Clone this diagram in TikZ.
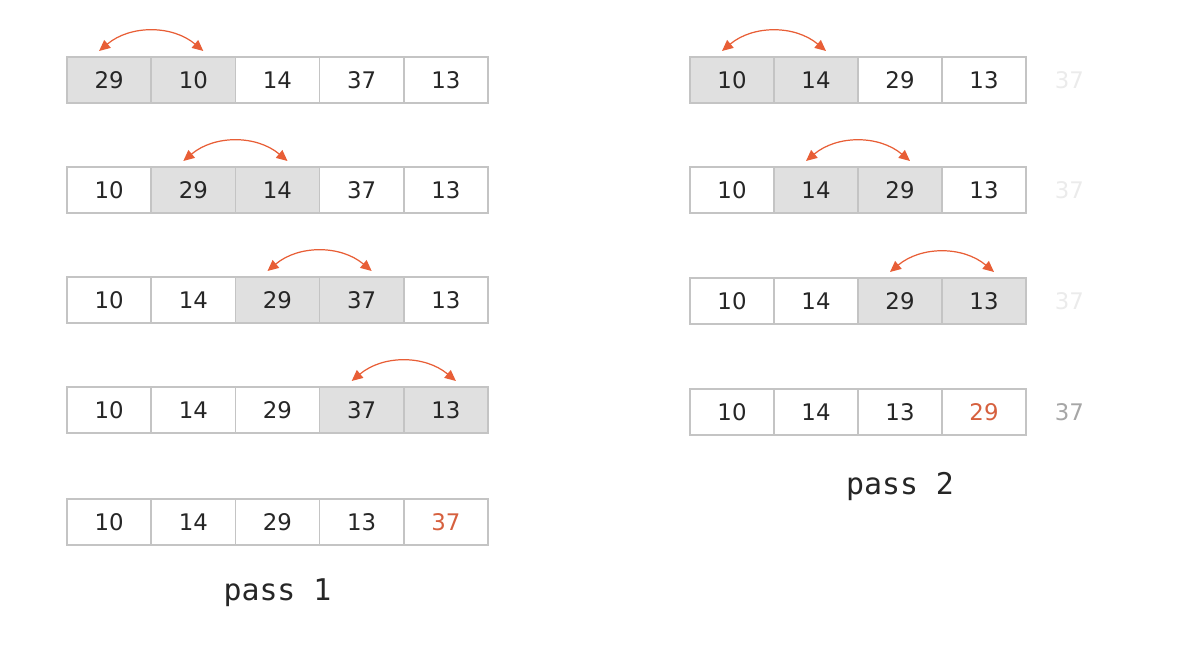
\documentclass[tikz,border=0pt]{standalone}
\usepackage{fontspec}
\setmainfont{DejaVu Sans}
\newfontfamily\passfont{DejaVu Sans Mono}
\usetikzlibrary{arrows.meta, positioning}
\definecolor{swapOrange}{RGB}{232, 94, 54}
\definecolor{doneOrange}{RGB}{214, 96, 62}
\definecolor{cellGray}{RGB}{224, 224, 224}
\definecolor{cellBorder}{RGB}{196, 196, 196}

\begin{document}
\begin{tikzpicture}[
    font=\fontsize{13}{15}\selectfont,
    % Estilo base para celdas
    plain/.style={
        draw=cellBorder,
        line width=0.9pt,
        minimum width=1.684cm,
        minimum height=0.92cm,
        inner sep=0pt,
        outer sep=0pt,
        text=black!85
    },
    % Celdas comparadas
    shaded/.style={plain, fill=cellGray},
    % Elemento ya ordenado
    done/.style={plain, text=doneOrange},
    % Flechas de intercambio
    swaparrow/.style={
        {Triangle[length=2.2mm, width=2mm]}-{Triangle[length=2.2mm, width=2mm]},
        line width=0.7pt,
        swapOrange
    },
    % Etiquetas de pasada
    passlabel/.style={font=\passfont\fontsize{17}{19}\selectfont, text=black!85}
]
    \useasboundingbox (0,0) rectangle (23.72,13);

    % --- 1. Primera pasada ---
    \foreach \r/\y/\vals in {
        1/11.4/{29/shaded,10/shaded,14/plain,37/plain,13/plain},
        2/9.2/{10/plain,29/shaded,14/shaded,37/plain,13/plain},
        3/7.0/{10/plain,14/plain,29/shaded,37/shaded,13/plain},
        4/4.8/{10/plain,14/plain,29/plain,37/shaded,13/shaded},
        5/2.56/{10/plain,14/plain,29/plain,13/plain,37/done}}
    {
        \foreach \v/\sty [count=\i] in \vals
            \node[\sty] (L\r-\i) at ({1.34+(\i-0.5)*1.684},\y) {\v};
    }

    % Intercambios
    \foreach \r/\a/\b in {1/1/2, 2/2/3, 3/3/4, 4/4/5}
        \draw[swaparrow] ([xshift=-0.2cm, yshift=0.12cm]L\r-\a.north)
            to[bend left=40] ([xshift=0.2cm, yshift=0.12cm]L\r-\b.north);

    \node[passlabel, below=0.55cm of L5-3] (pass1) {pass 1};

    % --- 2. Segunda pasada ---
    \foreach \r/\y/\vals in {
        1/11.4/{10/shaded,14/shaded,29/plain,13/plain},
        2/9.2/{10/plain,14/shaded,29/shaded,13/plain},
        3/6.98/{10/plain,14/plain,29/shaded,13/shaded},
        4/4.76/{10/plain,14/plain,13/plain,29/done}}
    {
        \foreach \v/\sty [count=\i] in \vals
            \node[\sty] (R\r-\i) at ({13.8+(\i-0.5)*1.68},\y) {\v};
    }

    % 37 ya colocado
    \foreach \r/\y/\c in {1/11.4/black!8, 2/9.2/black!8, 3/6.98/black!8, 4/4.76/black!35}
        \node[text=\c, right=0.45cm of R\r-4] (R\r-out) {37};

    \foreach \r/\a/\b in {1/1/2, 2/2/3, 3/3/4}
        \draw[swaparrow] ([xshift=-0.2cm, yshift=0.12cm]R\r-\a.north)
            to[bend left=40] ([xshift=0.2cm, yshift=0.12cm]R\r-\b.north);

    \node[passlabel, below=0.62cm of R4-3] (pass2) {pass 2};

\end{tikzpicture}
\end{document}
